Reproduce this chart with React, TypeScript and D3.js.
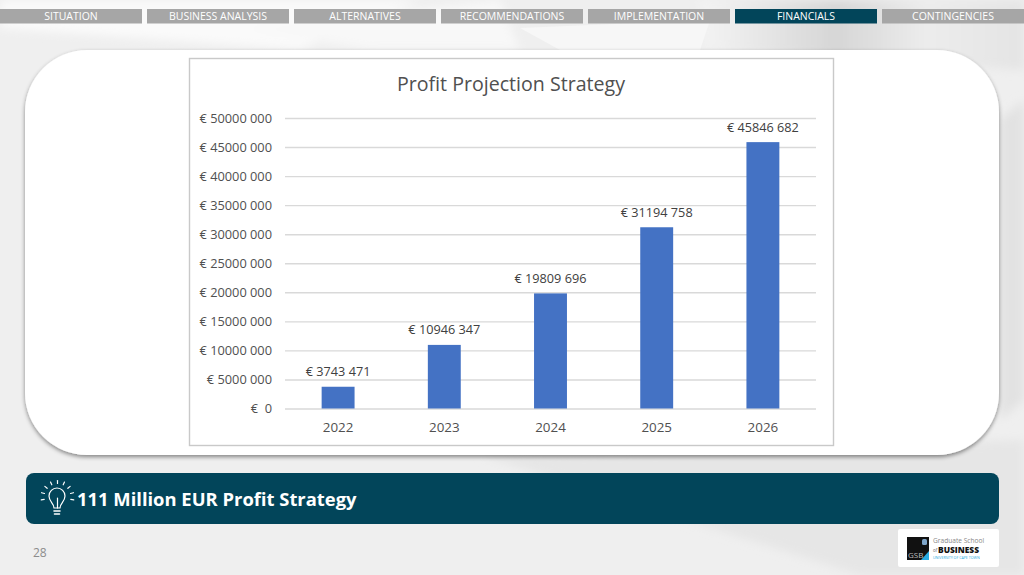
import React, { useEffect, useRef } from "react";
import * as d3 from "d3";

const navLabels = ["SITUATION", "BUSINESS ANALYSIS", "ALTERNATIVES", "RECOMMENDATIONS", "IMPLEMENTATION", "FINANCIALS", "CONTINGENCIES"];
const activeNav = "FINANCIALS";
const years = ["2022", "2023", "2024", "2025", "2026"];
const profits = [3743471, 10946347, 19809696, 31194758, 45846682];
const profitLabels = ["€ 3743 471", "€ 10946 347", "€ 19809 696", "€ 31194 758", "€ 45846 682"];
const yTicks = [0, 5000000, 10000000, 15000000, 20000000, 25000000, 30000000, 35000000, 40000000, 45000000, 50000000];
const yTickLabels = ["€  0", "€ 5000 000", "€ 10000 000", "€ 15000 000", "€ 20000 000", "€ 25000 000", "€ 30000 000", "€ 35000 000", "€ 40000 000", "€ 45000 000", "€ 50000 000"];
const chartTitle = "Profit Projection Strategy";
const banner = "111 Million EUR Profit Strategy";
const pageNumber = "28";
const rayAngles = [-100, -75, -50, -25, 0, 25, 50, 75, 100];

const FONT = "'Open Sans', 'Noto Sans', sans-serif";

export default function App() {
  const axisRef = useRef<SVGGElement>(null);
  const x = d3.scaleBand<string>().domain(years).range([285, 816]).paddingInner(0.69).paddingOuter(0.345);
  const y = d3.scaleLinear().domain([0, 50000000]).range([408.5, 118]);
  const nav = d3.scaleBand<string>().domain(navLabels).range([0, 1024]).paddingInner(0.034).paddingOuter(0);

  useEffect(() => {
    if (!axisRef.current) return;
    const g = d3.select(axisRef.current);
    g.selectAll("*").remove();
    const axis = d3
      .axisLeft(y)
      .tickValues(yTicks)
      .tickSize(-(816 - 285))
      .tickPadding(13)
      .tickFormat((_, i) => yTickLabels[i]);
    g.attr("transform", "translate(285,0)").call(axis as any);
    g.select(".domain").remove();
    g.selectAll(".tick line").attr("stroke", "#d9d9d9").attr("stroke-width", 1.4);
    g.selectAll(".tick text")
      .attr("fill", "#505050")
      .attr("font-size", 12.8)
      .attr("font-family", FONT)
      .style("white-space", "pre");
  }, []);

  return (
    <svg width={1024} height={575} style={{ position: "fixed", left: 0, top: 0, display: "block" }}>
      <defs>
        <filter id="cardShadow" x="-5%" y="-5%" width="110%" height="110%">
          <feDropShadow dx="0" dy="2" stdDeviation="2.2" floodColor="#000" floodOpacity="0.45" />
        </filter>
        <filter id="soft" x="-20%" y="-20%" width="140%" height="140%">
          <feGaussianBlur stdDeviation="5" />
        </filter>
        <linearGradient id="bgRight" x1="0" x2="1" y1="0" y2="0">
          <stop offset="0" stopColor="#f4f4f4" />
          <stop offset="0.42" stopColor="#d6d6d6" />
          <stop offset="0.7" stopColor="#ececec" />
          <stop offset="1" stopColor="#e4e4e4" />
        </linearGradient>
      </defs>
      <rect width={1024} height={575} fill="#efefef" />
      <g filter="url(#soft)">
        <polygon points="0,0 420,0 300,50 0,28" fill="#fafafa" />
        <polygon points="240,28 500,0 520,50 370,50" fill="#f8f8f8" />
        <polygon points="700,0 1024,0 1024,70 705,50" fill="url(#bgRight)" />
        <polygon points="1000,120 1024,100 1024,400 1000,420" fill="#e2e2e2" />
        <polygon points="480,455 1024,440 1024,575 860,575" fill="#e6e6e6" />
      </g>
      <polygon points="520,28 710,20 700,50 560,50" fill="#f7f7f7" />

      {navLabels.map((label) => (
        <g key={label}>
          <rect
            x={nav(label)}
            y={9}
            width={nav.bandwidth()}
            height={14.5}
            fill={label === activeNav ? "#02455a" : "#a6a6a6"}
          />
          <text
            x={(nav(label) as number) + nav.bandwidth() / 2}
            y={20}
            textAnchor="middle"
            fontSize={10.5}
            fontFamily={FONT}
            fill="#ffffff"
          >
            {label}
          </text>
        </g>
      ))}

      <rect x={25} y={50} width={974} height={405} rx={62} ry={62} fill="#ffffff" filter="url(#cardShadow)" />

      <rect x={189.5} y={58.5} width={644} height={387} fill="#ffffff" stroke="#c9c9c9" strokeWidth={1.4} />
      <text x={511} y={91} textAnchor="middle" fontSize={19.6} fontWeight={500} fontFamily={FONT} fill="#505050">
        {chartTitle}
      </text>

      <g ref={axisRef} />

      {years.map((yr, i) => (
        <g key={yr}>
          <rect
            x={x(yr)}
            y={y(profits[i])}
            width={x.bandwidth()}
            height={y(0) - y(profits[i])}
            fill="#4472c4"
          />
          <text
            x={(x(yr) as number) + x.bandwidth() / 2}
            y={y(profits[i]) - 10.5}
            textAnchor="middle"
            fontSize={12.7}
            fontWeight={500}
            fontFamily={FONT}
            fill="#404040"
          >
            {profitLabels[i]}
          </text>
          <text
            x={(x(yr) as number) + x.bandwidth() / 2}
            y={432}
            textAnchor="middle"
            fontSize={13.4}
            fontFamily={FONT}
            fill="#505050"
          >
            {yr}
          </text>
        </g>
      ))}

      <rect x={26} y={473} width={973} height={51} rx={8} ry={8} fill="#02455a" />
      <g stroke="#ffffff" fill="none" strokeWidth={1.2} strokeLinecap="round" strokeLinejoin="round">
        <path d="M54,508 C54,503 49,502 49,496 A8,8 0 1 1 65,496 C65,502 60,503 60,508 Z" />
        <path d="M57.5,508 V498" />
        <path d="M54,511 H60 M54.5,514 H59.5" strokeWidth={1.6} />
        {rayAngles.map((deg) => {
          const a = (deg * Math.PI) / 180;
          return (
            <line
              key={deg}
              x1={57.5 + 13.5 * Math.sin(a)}
              y1={497 - 13.5 * Math.cos(a)}
              x2={57.5 + 16.5 * Math.sin(a)}
              y2={497 - 16.5 * Math.cos(a)}
            />
          );
        })}
      </g>
      <text x={77} y={505.5} fontSize={18.4} fontWeight={700} fontFamily={FONT} fill="#ffffff">
        {banner}
      </text>

      <text x={33} y={557} fontSize={12} fontFamily={FONT} fill="#8c8c8c">
        {pageNumber}
      </text>

      <rect x={898} y={529} width={101} height={38} rx={2} fill="#ffffff" />
      <rect x={907} y={537} width={22} height={23} fill="#111111" />
      <polygon points="929,551 929,560 921,560" fill="#29abe2" />
      <rect x={922} y={539} width={5} height={6} rx={1.5} fill="#7fa6c9" />
      <text x={908} y={558} fontSize={8} fontFamily={FONT} fill="#bbbbbb">GSB</text>
      <text x={933} y={543} fontSize={6.6} fontFamily={FONT} fill="#888888">Graduate School</text>
      <text x={933} y={552} fontSize={4.5} fontFamily={FONT} fill="#666666">of</text>
      <text x={938} y={552.5} fontSize={8.4} fontWeight={800} fontFamily={FONT} fill="#111111">BUSINESS</text>
      <text x={933} y={558.5} fontSize={3.6} fontFamily={FONT} fill="#29abe2">UNIVERSITY OF CAPE TOWN</text>
    </svg>
  );
}
